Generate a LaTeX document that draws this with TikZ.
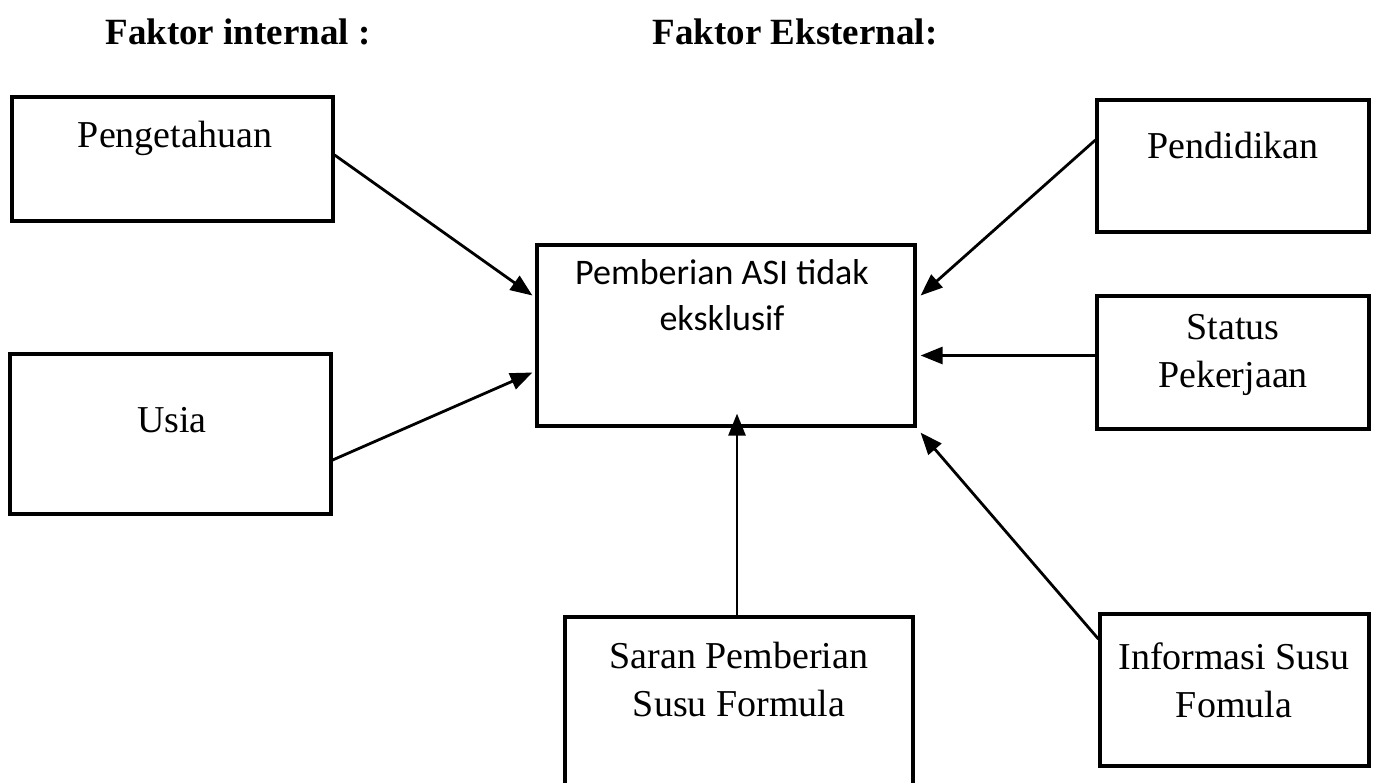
\documentclass[tikz,border=0pt]{standalone}
\usepackage{fontspec}
\setmainfont{Liberation Serif}
\newfontfamily\calfont{Carlito}
\usetikzlibrary{arrows.meta}
\tikzset{
  box/.style={draw, line width=3.2pt, rectangle, inner sep=0pt},
  lbl/.style={font=\fontsize{38}{48}\selectfont, align=center, inner sep=0pt},
  clbl/.style={font=\calfont\fontsize{36}{46}\selectfont, align=center, inner sep=0pt},
  ttl/.style={font=\bfseries\fontsize{37}{42}\selectfont, inner sep=0pt},
  conn/.style={line width=2.8pt, -{Triangle[length=22pt,width=17pt]}},
}
\begin{document}
\begin{tikzpicture}[x=1pt,y=-1pt]
\useasboundingbox (0,0) rectangle (1381,782);
\clip (0,0) rectangle (1381,782);
% titles
\node[ttl] (t1) at (238,32) {Faktor internal :};
\node[ttl] (t2) at (795,32) {Faktor Eksternal:};
% boxes
\node[box, minimum width=321pt, minimum height=124pt] (peng) at (172.5,159) {};
\node[box, minimum width=321pt, minimum height=160pt] (usia) at (170.5,434) {};
\node[box, minimum width=378pt, minimum height=181pt] (mid) at (726,335.5) {};
\node[box, minimum width=272pt, minimum height=132pt] (pend) at (1233,166) {};
\node[box, minimum width=272pt, minimum height=133pt] (stat) at (1233,362.5) {};
\node[box, minimum width=269pt, minimum height=152pt] (info) at (1234.5,690) {};
\node[box, minimum width=348pt, minimum height=183pt] (saran) at (739,708.5) {};
% labels
\node[lbl] (pengT) at (175,138) {Pengetahuan};
\node[lbl] (usiaT) at (172,420) {Usia};
\node[clbl] (midT) at (722,295) {Pemberian ASI tidak\\eksklusif};
\node[lbl] (pendT) at (1233,145) {Pendidikan};
\node[lbl] (statT) at (1233,355) {Status\\Pekerjaan};
\node[lbl] (infoT) at (1234,680) {Informasi Susu\\Fomula};
\node[lbl] (saranT) at (739,679) {Saran Pemberian\\Susu Formula};
% connectors
\draw[conn] ([yshift=4pt]peng.east) -- ([xshift=-3pt,yshift=40pt]mid.west);
\draw[conn] ([yshift=-26pt]usia.east) -- ([xshift=-3pt,yshift=-37pt]mid.west);
\draw[conn] ([yshift=26pt]pend.west) -- ([xshift=4pt,yshift=40pt]mid.east);
\draw[conn] ([yshift=7pt]stat.west) -- ([xshift=4pt,yshift=-20pt]mid.east);
\draw[conn] ([yshift=51pt]info.west) -- ([xshift=4pt,yshift=-5pt]mid.south east);
\draw[conn] ([xshift=-2pt]saran.north) -- ([xshift=11pt,yshift=14pt]mid.south);
\end{tikzpicture}
\end{document}
